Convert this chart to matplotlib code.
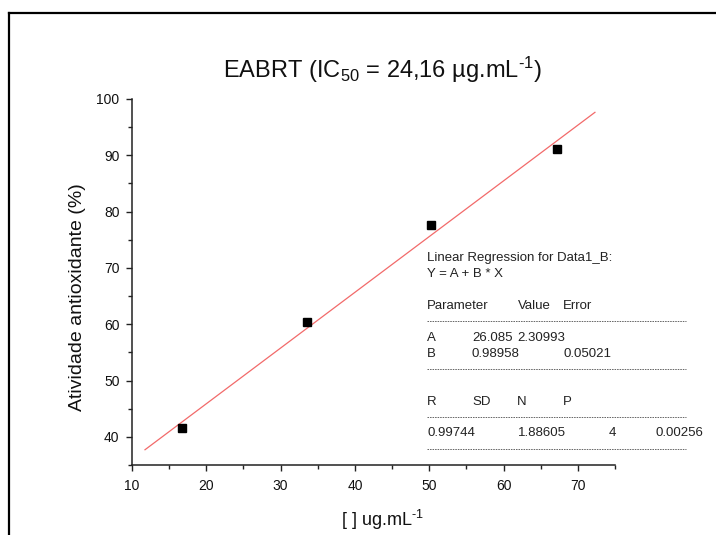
import matplotlib
matplotlib.use("Agg")
import matplotlib.pyplot as plt
from matplotlib.lines import Line2D
from matplotlib.ticker import MultipleLocator
import numpy as np

plt.rcParams['font.family'] = ['Liberation Sans', 'DejaVu Sans']
plt.rcParams['mathtext.fontset'] = 'custom'
plt.rcParams['mathtext.rm'] = 'Liberation Sans'
plt.rcParams['mathtext.it'] = 'Liberation Sans:italic'
plt.rcParams['mathtext.bf'] = 'Liberation Sans:bold'
plt.rcParams['mathtext.default'] = 'regular'

# data
concentration = [16.75, 33.5, 50.3, 67.2]
activity = [41.5, 60.4, 77.7, 91.2]
fit_A = 26.085
fit_B = 0.98958
fit_x_range = [11.75, 72.3]

title = r"EABRT (IC$_{50}$ = 24,16 µg.mL$^{\text{-1}}$)"
xlabel = r"[ ] ug.mL$^{\text{-1}}$"
ylabel = "Atividade antioxidante (%)"

W, H = 716, 535
fig = plt.figure(figsize=(W / 100, H / 100), dpi=100)

def fx(px):
    return px / W

def fy(py):
    return 1 - py / H

ax = fig.add_axes([fx(132), fy(465), fx(615) - fx(132), fy(99) - fy(465)])
ax.set_xlim(10, 75)
ax.set_ylim(35, 100)

fx_line = np.array(fit_x_range)
ax.plot(fx_line, fit_A + fit_B * fx_line, color='#f26a6a', lw=0.9, zorder=2)
ax.plot(concentration, activity, 's', color='black', markersize=5.8, zorder=3)

for s in ['top', 'right']:
    ax.spines[s].set_visible(False)
for s in ['left', 'bottom']:
    ax.spines[s].set_linewidth(1.1)
    ax.spines[s].set_color('#222222')

ax.xaxis.set_major_locator(MultipleLocator(10))
ax.xaxis.set_minor_locator(MultipleLocator(5))
ax.yaxis.set_major_locator(MultipleLocator(10))
ax.yaxis.set_minor_locator(MultipleLocator(5))
ax.tick_params(which='major', direction='out', length=4.5, width=1.0, labelsize=10,
               color='#222222', labelcolor='#111111')
ax.tick_params(which='minor', direction='out', length=3.2, width=1.0, color='#222222')
ax.tick_params(axis='y', which='major', pad=4.5)
ax.tick_params(axis='x', which='major', pad=5.5)

fig.text(fx(382), fy(70), title, fontsize=17, ha='center', va='center', color='#111111')
fig.text(fx(382), fy(520), xlabel, fontsize=13, ha='center', va='center', color='#111111')
fig.text(fx(78), fy(297), ylabel, fontsize=14, ha='center', va='center', rotation=90,
         color='#111111')

# regression report
tc = '#222222'
fs = 9.5
def t(x, y, s, ha='left'):
    fig.text(fx(x), fy(y), s, fontsize=fs, ha=ha, va='center', color=tc)

t(427, 258, "Linear Regression for Data1_B:")
t(427, 274, "Y = A + B * X")
t(427, 306, "Parameter")
t(518, 306, "Value")
t(563, 306, "Error")
t(427, 338, "A")
t(472, 338, "26.085")
t(517, 338, "2.30993")
t(427, 354, "B")
t(472, 354, "0.98958")
t(563, 354, "0.05021")
t(427, 402, "R")
t(472, 402, "SD")
t(517, 402, "N")
t(563, 402, "P")
t(427, 433, "0.99744")
t(518, 433, "1.88605")
t(612, 433, "4", ha='center')
t(655, 433, "0.00256")

for yy in [321, 369, 417, 449]:
    fig.add_artist(Line2D([fx(427), fx(686)], [fy(yy), fy(yy)], transform=fig.transFigure,
                          color='#666666', lw=0.7, dashes=(1.6, 1.0)))

# outer frame
fig.add_artist(Line2D([fx(9), fx(9)], [fy(13), fy(535)], transform=fig.transFigure,
                      color='black', lw=1.6))
fig.add_artist(Line2D([fx(9), fx(716)], [fy(13), fy(13)], transform=fig.transFigure,
                      color='black', lw=1.6))

fig.savefig("out.png", dpi=100)
